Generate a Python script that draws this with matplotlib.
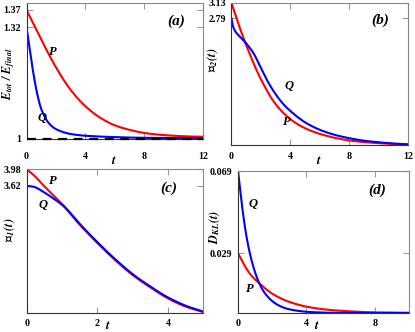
import numpy as np
import matplotlib
matplotlib.use("Agg")
import matplotlib.pyplot as plt

plt.rcParams["font.family"] = ["Liberation Serif", "DejaVu Serif"]
plt.rcParams["font.weight"] = "bold"
plt.rcParams["mathtext.fontset"] = "stix"

RED = "#ff0000"
BLUE = "#0000ff"

# --- panel (a): E_tot / E_final --- #
t_a_p = [0, 1, 2, 3, 4, 5, 6, 7, 8, 9, 10, 11, 12]
e_a_p = [1.37, 1.285, 1.205, 1.140, 1.093, 1.060, 1.038, 1.025, 1.016, 1.011, 1.008, 1.006, 1.005]
t_a_q = [0, 0.2, 0.4, 0.6, 0.8, 1.0, 1.5, 2.0, 3.0, 4.0, 6.0, 8.0, 12.0]
e_a_q = [1.32, 1.262, 1.205, 1.155, 1.115, 1.085, 1.045, 1.027, 1.013, 1.008, 1.004, 1.002, 1.001]

# --- panel (b): L2(t) --- #
t_b_p = [0, 0.5, 1, 2, 3, 4, 5, 6, 7, 8, 9, 10, 11, 12]
l2_p = [3.13, 2.64, 2.20, 1.45, 0.90, 0.57, 0.37, 0.245, 0.16, 0.10, 0.065, 0.04, 0.022, 0.01]
t_b_q = [0, 0.1, 0.25, 0.5, 0.75, 1.0, 1.5, 2.0, 2.5, 3.0, 3.5, 4, 5, 6, 7, 8, 9, 10, 11, 12]
l2_q = [2.79, 2.62, 2.51, 2.41, 2.33, 2.24, 2.02, 1.70, 1.38, 1.12, 0.91, 0.75, 0.50, 0.335,
        0.225, 0.15, 0.095, 0.06, 0.033, 0.015]

# --- panel (c): L1(t) --- #
t_c = [0, 0.19, 0.47, 0.76, 1.04, 1.5, 2.0, 2.5, 3.0, 3.5, 4.0, 4.5, 5.0]
l1_p = [3.98, 3.86, 3.63, 3.41, 3.19, 2.77, 2.37, 2.00, 1.67, 1.40, 1.16, 0.98, 0.86]
l1_q = [3.62, 3.60, 3.49, 3.34, 3.18, 2.79, 2.39, 2.02, 1.69, 1.42, 1.18, 1.00, 0.87]

# --- panel (d): D_KL(t) --- #
t_d_p = [0, 0.43, 0.8, 1.2, 2.0, 3.0, 4.0, 5.0, 6.0, 7.0, 8.0, 10.0]
dkl_p = [0.029, 0.0224, 0.0180, 0.0148, 0.0094, 0.0054, 0.0031, 0.0018, 0.0011, 0.0006, 0.0003, 0.0001]
t_d_q = [0, 0.25, 0.5, 0.75, 1.0, 1.25, 1.5, 2.0, 2.5, 3.0, 4.0, 5.0, 6.0, 8.0, 10.0]
dkl_q = [0.069, 0.0510, 0.0370, 0.0270, 0.0197, 0.0143, 0.0105, 0.0058, 0.0032, 0.0018, 0.0006,
         0.0002, 0.00008, 0.00002, 0.0]


def smooth(t, y, n=400):
    # monotone cubic (Fritsch-Carlson) through the read points
    t = np.asarray(t, float)
    y = np.asarray(y, float)
    h = np.diff(t)
    d = np.diff(y) / h
    m = np.zeros_like(y)
    m[0], m[-1] = d[0], d[-1]
    for i in range(1, len(y) - 1):
        if d[i - 1] * d[i] <= 0:
            m[i] = 0.0
        else:
            w1 = 2 * h[i] + h[i - 1]
            w2 = h[i] + 2 * h[i - 1]
            m[i] = (w1 + w2) / (w1 / d[i - 1] + w2 / d[i])
    tt = np.linspace(t[0], t[-1], n)
    idx = np.clip(np.searchsorted(t, tt) - 1, 0, len(h) - 1)
    s = (tt - t[idx]) / h[idx]
    h00 = 2 * s**3 - 3 * s**2 + 1
    h10 = s**3 - 2 * s**2 + s
    h01 = -2 * s**3 + 3 * s**2
    h11 = s**3 - s**2
    yy = h00 * y[idx] + h10 * h[idx] * m[idx] + h01 * y[idx + 1] + h11 * h[idx] * m[idx + 1]
    return tt, yy


def style(ax, xlim, ylim, xticks, yticks, yticklabels, xpad):
    ax.set_xlim(*xlim)
    ax.set_ylim(*ylim)
    ax.set_xticks(xticks)
    ax.set_xticklabels([str(x) for x in xticks])
    ax.set_yticks(yticks)
    ax.set_yticklabels(yticklabels)
    ax.tick_params(direction="in", top=True, right=True, length=4, width=0.8,
                   color="#999999", labelsize=7.2)
    ax.tick_params(axis="x", pad=xpad)
    ax.tick_params(axis="y", pad=4)
    for lab in ax.get_xticklabels() + ax.get_yticklabels():
        lab.set_fontweight("bold")
    for s in ("left", "bottom"):
        ax.spines[s].set_color("#333333")
    for s in ("top", "right"):
        ax.spines[s].set_color("#888888")
    for s in ax.spines.values():
        s.set_linewidth(0.8)


def put(ax, x, y, txt, size=9, **kw):
    ax.text(x, y, txt, fontsize=size, fontweight="bold", fontstyle="italic",
            ha="center", va="center", **kw)


def labels(ax, ylabel, ycoords, xcoords, ysize=8.8):
    ax.set_ylabel(ylabel, fontsize=ysize)
    ax.yaxis.set_label_coords(*ycoords)
    ax.set_xlabel(r"$\mathbfit{t}$", fontsize=9.5)
    ax.xaxis.set_label_coords(*xcoords)


fig = plt.figure(figsize=(4.15, 3.32), dpi=100)

ax_a = fig.add_axes([0.0639, 0.5828, 0.4253, 0.4081])
ax_b = fig.add_axes([0.5578, 0.5633, 0.4253, 0.4277])
ax_c = fig.add_axes([0.0643, 0.0587, 0.4253, 0.4313])
ax_d = fig.add_axes([0.5735, 0.0572, 0.4120, 0.4277])

lw = 1.5

# (a)
ax_a.plot(*smooth(t_a_p, e_a_p), color=RED, lw=lw)
ax_a.plot(*smooth(t_a_q, e_a_q), color=BLUE, lw=lw)
ax_a.axhline(1.0, color="black", lw=1.6, dashes=(4, 3), clip_on=False, zorder=3)
style(ax_a, (0, 12), (1.0, 1.39), [0, 4, 8, 12], [1.0, 1.32, 1.37], ["1", "1.32", "1.37"], 9.5)
put(ax_a, 1.78, 1.25, "P")
put(ax_a, 1.03, 1.058, "Q")
put(ax_a, 0.847, 0.862, "(a)", size=11, transform=ax_a.transAxes)
labels(ax_a, r"$\mathbfit{E_{tot}\ /\ E_{final}}$", (-0.055, 0.48), (0.497, -0.125), ysize=8.4)

# (b)
ax_b.plot(*smooth(t_b_p, l2_p), color=RED, lw=lw)
ax_b.plot(*smooth(t_b_q, l2_q), color=BLUE, lw=lw)
style(ax_b, (0, 12), (0, 3.13), [0, 4, 8, 12], [2.79, 3.13], ["2.79", "3.13"], 4.8)
put(ax_b, 3.91, 1.30, "Q")
put(ax_b, 3.75, 0.51, "P")
put(ax_b, 0.841, 0.88, "(b)", size=11, transform=ax_b.transAxes)
labels(ax_b, r"$\mathcal{L}_{\mathbfit{2}}\mathbfit{(t)}$", (-0.065, 0.60), (0.496, -0.07))

# (c)
ax_c.plot(*smooth(t_c, l1_p), color=RED, lw=lw)
ax_c.plot(*smooth(t_c, l1_q), color=BLUE, lw=lw)
style(ax_c, (0, 5), (0.85, 3.98), [0, 2, 4], [3.62, 3.98], ["3.62", "3.98"], 4.5)
put(ax_c, 0.75, 3.72, "P")
put(ax_c, 0.47, 3.19, "Q")
put(ax_c, 0.807, 0.869, "(c)", size=11, transform=ax_c.transAxes)
labels(ax_c, r"$\mathcal{L}_{\mathbfit{1}}\mathbfit{(t)}$", (-0.057, 0.576), (0.463, -0.05))

# (d)
ax_d.plot(*smooth(t_d_p, dkl_p), color=RED, lw=lw)
ax_d.plot(*smooth(t_d_q, dkl_q), color=BLUE, lw=lw)
style(ax_d, (0, 10), (0, 0.069), [0, 4, 8], [0.029, 0.069], ["0.029", "0.069"], 4.5)
put(ax_d, 0.86, 0.0528, "Q")
put(ax_d, 0.70, 0.0118, "P")
put(ax_d, 0.813, 0.866, "(d)", size=11, transform=ax_d.transAxes)
labels(ax_d, r"$\mathbfit{D_{KL}(t)}$", (-0.095, 0.606), (0.46, -0.048))

fig.savefig("out.png", dpi=100)
